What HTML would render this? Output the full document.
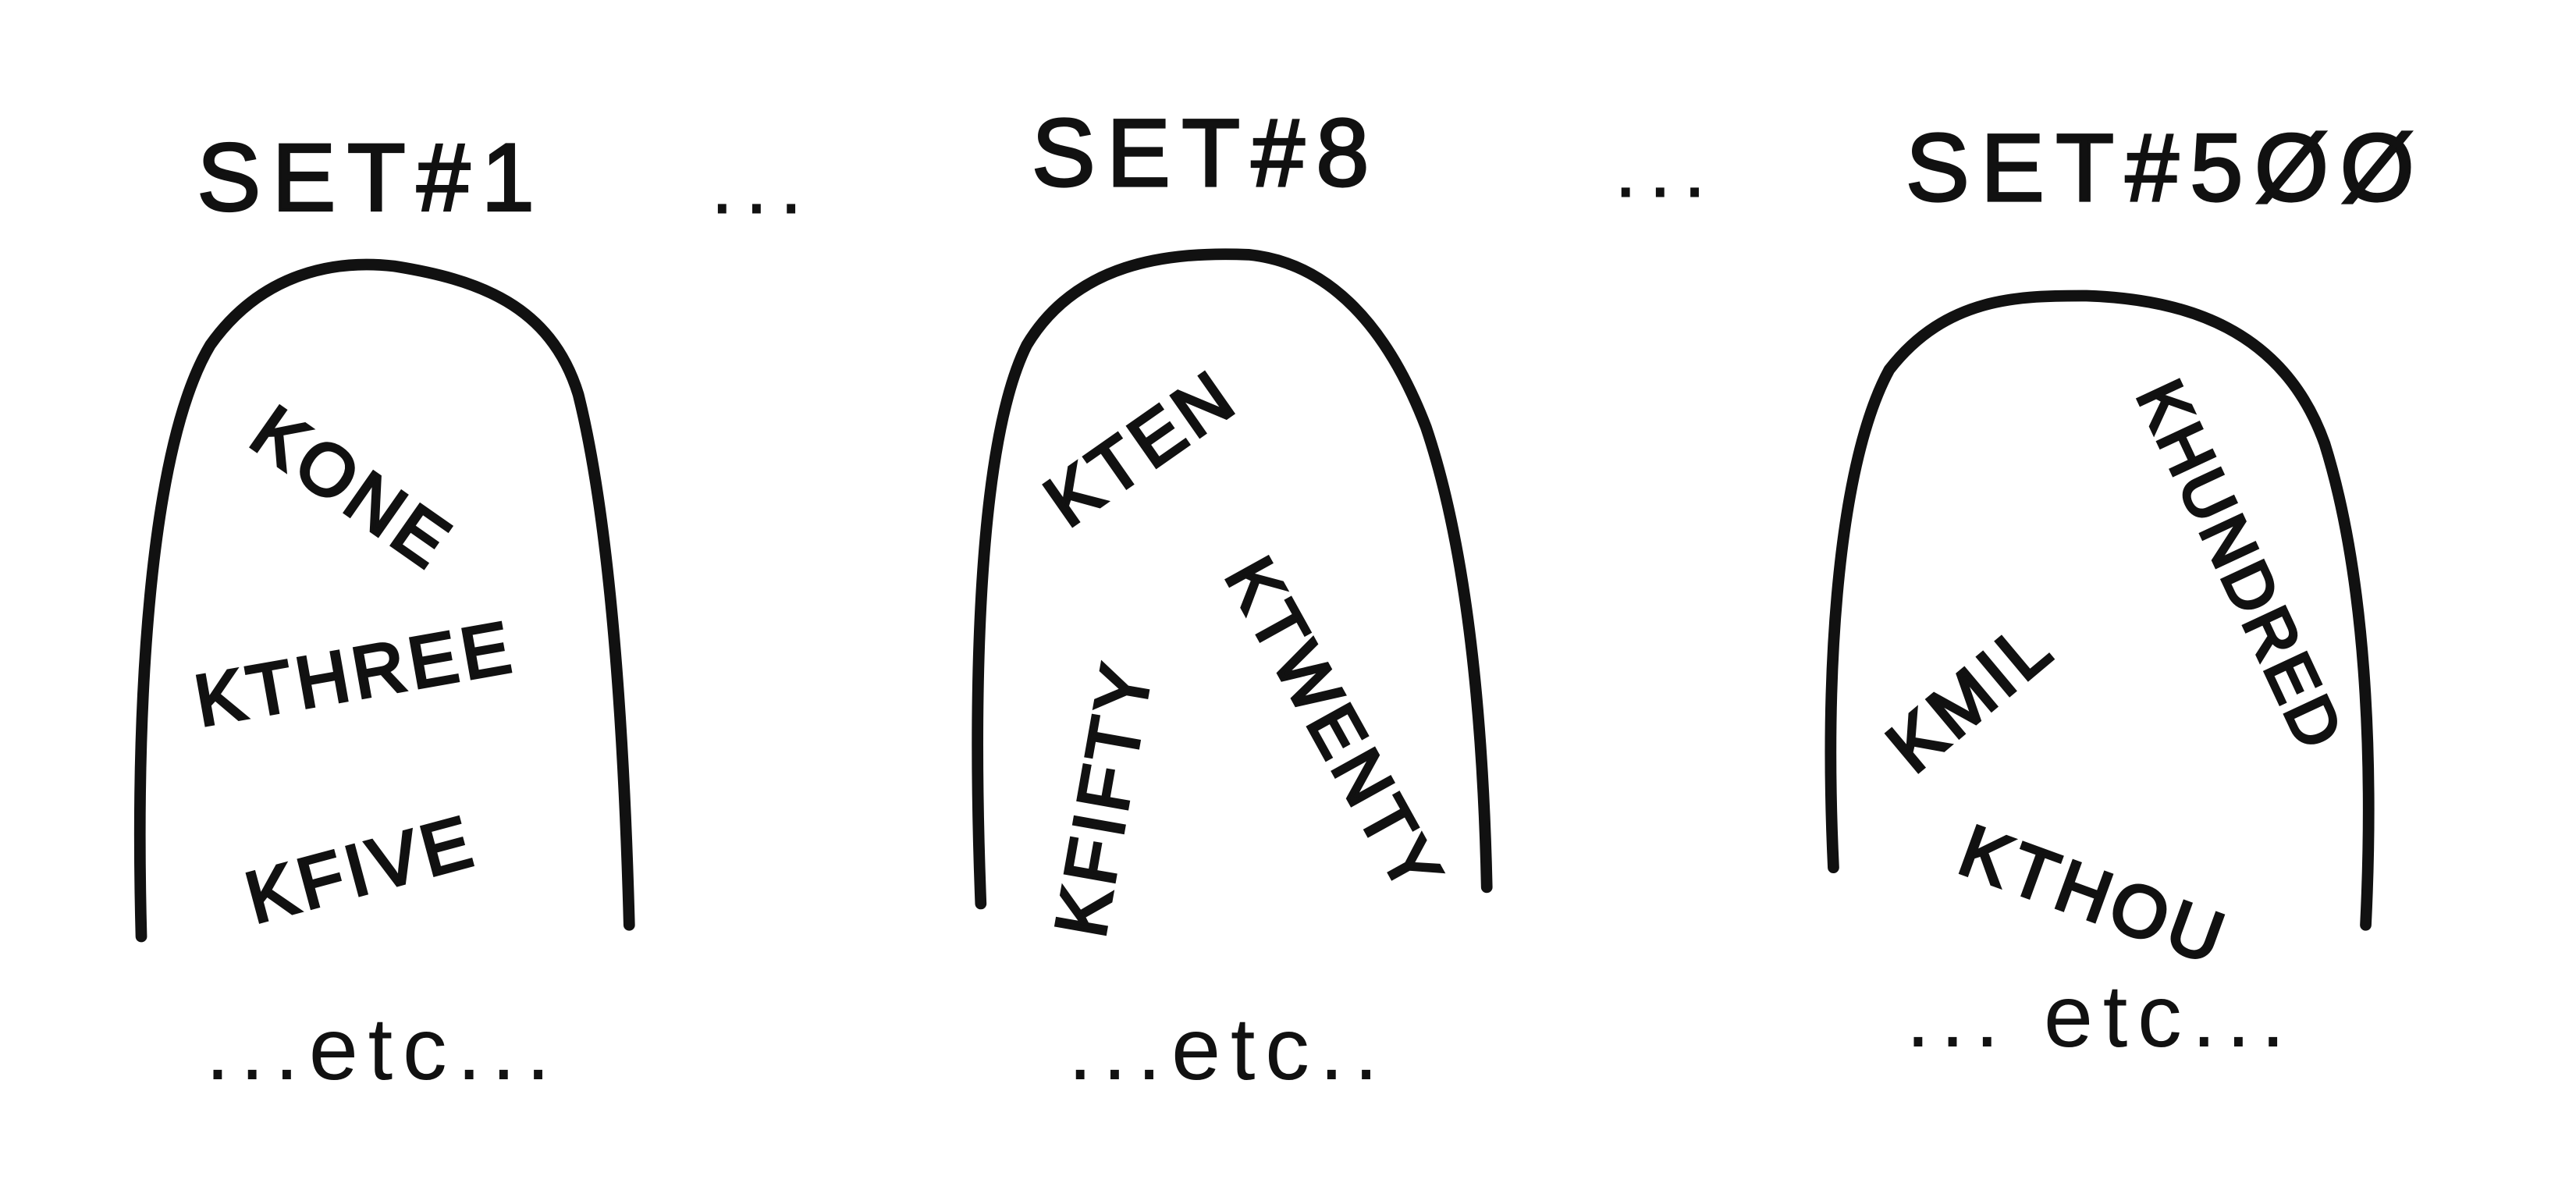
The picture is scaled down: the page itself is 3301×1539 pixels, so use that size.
<!DOCTYPE html>
<html>
<head>
<meta charset="utf-8">
<style>
html,body{margin:0;padding:0;background:#fff;}
svg{display:block;}
text{font-family:"Liberation Sans",sans-serif;fill:#111;}
.t{font-size:58px;stroke:#111;stroke-width:1.5;letter-spacing:7px;}
.k{font-size:44px;stroke:#111;stroke-width:2;letter-spacing:3px;}
.e{font-size:54px;letter-spacing:6px;}
.arch{fill:none;stroke:#111;stroke-width:7;stroke-linecap:round;}
</style>
</head>
<body>
<svg width="3301" height="1539" viewBox="0 0 1568 731" preserveAspectRatio="none">
  <rect width="1568" height="731" fill="#fff"/>
  <text class="t" x="120" y="128">SET#1</text>
  <text class="e" x="432" y="130">...</text>
  <text class="t" x="628" y="113">SET#8</text>
  <text class="e" x="982" y="120">...</text>
  <text class="t" x="1160" y="122">SET#5ØØ</text>

  <path class="arch" d="M86,570 C82,420 92,270 128,210 C160,165 205,158 240,162 C290,170 335,185 352,240 C372,320 380,450 383,563"/>
  <path class="arch" d="M597,550 C592,420 595,270 625,210 C655,160 710,153 760,155 C810,160 845,200 868,260 C895,340 903,450 905,540"/>
  <path class="arch" d="M1116,528 C1110,400 1120,280 1150,225 C1185,180 1230,180 1270,180 C1330,182 1390,200 1415,270 C1440,350 1445,460 1440,563"/>

  <text class="k" transform="translate(150,270) rotate(35)">KONE</text>
  <text class="k" transform="translate(122,442) rotate(-10)">KTHREE</text>
  <text class="k" transform="translate(155,562) rotate(-15)">KFIVE</text>

  <text class="k" transform="translate(650,322) rotate(-35)">KTEN</text>
  <text class="k" transform="translate(672,572) rotate(-80)">KFIFTY</text>
  <text class="k" style="font-size:42px" transform="translate(745,350) rotate(61)">KTWENTY</text>

  <text class="k" transform="translate(1165,472) rotate(-40)">KMIL</text>
  <text class="k" style="font-size:40px;letter-spacing:2px" transform="translate(1300,240) rotate(65)">KHUNDRED</text>
  <text class="k" transform="translate(1190,530) rotate(20)">KTHOU</text>

  <text class="e" x="125" y="657">...etc...</text>
  <text class="e" x="650" y="657">...etc..</text>
  <text class="e" x="1160" y="637">... etc...</text>
</svg>
</body>
</html>
